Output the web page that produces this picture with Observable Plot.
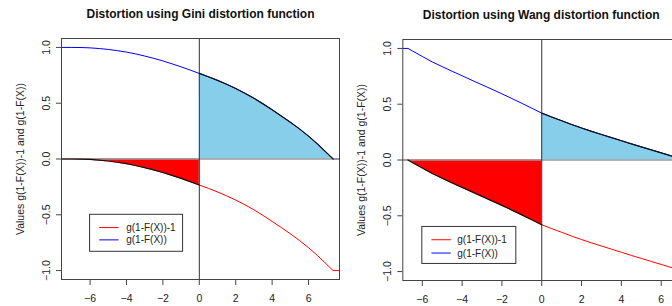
<!DOCTYPE html>
<html>
<head>
<meta charset="utf-8">
<script src="https://cdn.jsdelivr.net/npm/d3@7"></script>
<script src="https://cdn.jsdelivr.net/npm/@observablehq/plot@0.6"></script>
<style>
  html, body { margin: 0; padding: 0; background: #fff; }
  #wrap { position: relative; width: 672px; height: 306px; overflow: hidden; background: #fff; }
  .panel { position: absolute; top: 0; width: 360px; }
</style>
</head>
<body>
<div id="wrap">
  <div id="p2" class="panel" style="left:336px"></div>
  <div id="p1" class="panel" style="left:0px"></div>
</div>
<script>
// ---------- data ----------
const giniX = [-7.6, -7.0, -6.5, -6.0, -5.5, -5.0, -4.5, -4.0, -3.5, -3.0, -2.5, -2.0, -1.5, -1.0, -0.5, 0,
               0.5, 1.0, 1.5, 2.0, 2.5, 3.0, 3.5, 4.0, 4.5, 5.0, 5.5, 6.0, 6.5, 7.0, 7.35, 7.7];
const giniUpper = [1.0, 1.0, 0.999, 0.996, 0.99, 0.982, 0.971, 0.958, 0.942, 0.923, 0.902, 0.879, 0.853, 0.826, 0.797, 0.767,
                   0.737, 0.705, 0.67, 0.632, 0.59, 0.545, 0.494, 0.441, 0.386, 0.33, 0.27, 0.205, 0.133, 0.055, 0.0, 0.0];
const giniLower = [0.0, 0.0, -0.001, -0.004, -0.01, -0.018, -0.029, -0.042, -0.058, -0.077, -0.098, -0.121, -0.147, -0.174, -0.203, -0.233,
                   -0.263, -0.295, -0.33, -0.368, -0.41, -0.455, -0.506, -0.559, -0.614, -0.67, -0.73, -0.795, -0.867, -0.945, -1.0, -1.0];

const wangX = [-7.0, -6.72, -6.5, -6.0, -5.5, -5.0, -4.5, -4.0, -3.5, -3.0, -2.5, -2.0, -1.5, -1.0, -0.5, 0,
               0.5, 1.0, 1.5, 2.0, 2.5, 3.0, 3.5, 4.0, 4.5, 5.0, 5.5, 6.0, 6.5, 7.0];
const wangUpper = [1.0, 1.0, 0.978, 0.928, 0.879, 0.837, 0.795, 0.755, 0.714, 0.674, 0.634, 0.593, 0.551, 0.508, 0.464, 0.42,
                   0.385, 0.352, 0.318, 0.287, 0.257, 0.229, 0.201, 0.173, 0.145, 0.118, 0.091, 0.064, 0.037, 0.018];
const wangLower = [0.0, 0.0, -0.022, -0.072, -0.121, -0.163, -0.205, -0.245, -0.286, -0.326, -0.366, -0.407, -0.449, -0.492, -0.536, -0.58,
                   -0.615, -0.648, -0.682, -0.713, -0.743, -0.771, -0.799, -0.827, -0.855, -0.882, -0.909, -0.936, -0.963, -0.982];

const xTicks = [-6, -4, -2, 0, 2, 4, 6];
const yTicks = [-1, -0.5, 0, 0.5, 1];
const legendLabels = ["g(1-F(X))-1", "g(1-F(X))"];
const legendColors = ["red", "blue"];
const titles = ["Distortion using Gini distortion function", "Distortion using Wang distortion function"];
const yLabel = "Values g(1-F(X))-1 and g(1-F(X))";

// ---------- helpers ----------
const FONT = "'Liberation Sans', Arial, Helvetica, sans-serif";

function rows(xs, ys) { return xs.map((x, i) => ({x, v: ys[i]})); }

function legendMark(anchor, layout) {
  return (index, scales) => {
    const x0 = scales.x(anchor[0]), y0 = scales.y(anchor[1]);
    const g = d3.create("svg:g").attr("font-family", FONT).attr("font-size", 10).attr("text-anchor", "start");
    g.append("rect").attr("x", x0).attr("y", y0).attr("width", layout.w).attr("height", layout.h)
      .attr("fill", "white").attr("stroke", "#333").attr("stroke-width", 1);
    legendLabels.forEach((lab, i) => {
      const yy = y0 + layout.row0 + i * layout.rowStep;
      g.append("line").attr("x1", x0 + layout.l1).attr("x2", x0 + layout.l2)
        .attr("y1", yy).attr("y2", yy).attr("stroke", legendColors[i]).attr("stroke-width", 1);
      g.append("text").attr("x", x0 + layout.tx).attr("y", yy).attr("dy", "0.35em")
        .attr("text-anchor", "start").attr("fill", "#222").text(lab);
    });
    return g.node();
  };
}

function panel(cfg) {
  const upper = rows(cfg.xs, cfg.upper);
  const lower = rows(cfg.xs, cfg.lower);
  const upperFill = upper.filter(d => d.x >= 0 && d.x <= cfg.fillEnd);
  const lowerFill = lower.filter(d => d.x <= 0 && d.x >= cfg.fillStart);
  return Plot.plot({
    width: cfg.width,
    height: 306,
    marginLeft: cfg.marginLeft,
    marginRight: cfg.marginRight,
    marginTop: cfg.marginTop,
    marginBottom: cfg.marginBottom,
    style: {background: "transparent", fontFamily: FONT, fontSize: "10.5px", overflow: "visible",
            color: "#222", maxWidth: "none"},
    x: {domain: cfg.xDomain},
    y: {domain: [-1.08, 1.08]},
    marks: [
      Plot.areaY(upperFill, {x: "x", y1: 0, y2: "v", fill: "#87CEEB", clip: true}),
      Plot.areaY(lowerFill, {x: "x", y1: 0, y2: "v", fill: "#FF0000", clip: true}),
      Plot.line(upper, {x: "x", y: "v", stroke: "#0000FF", strokeWidth: 1, clip: true}),
      Plot.line(lower, {x: "x", y: "v", stroke: "#FF0000", strokeWidth: 1, clip: true}),
      Plot.ruleY([0], {stroke: "#9a9a9a", strokeWidth: 1.5}),
      Plot.ruleX([0], {stroke: "#333", strokeWidth: 1}),
      Plot.line(upperFill, {x: "x", y: "v", stroke: "#111", strokeWidth: 1.2, clip: true}),
      Plot.line(lowerFill, {x: "x", y: "v", stroke: "#111", strokeWidth: 1.2, clip: true}),
      Plot.frame({stroke: "#444", strokeWidth: 1}),
      Plot.axisX({ticks: xTicks, tickSize: 6, tickPadding: 9, label: null, stroke: "#444", fill: "#222", fontSize: 10.5}),
      Plot.axisY({ticks: yTicks, tickFormat: d3.format(".1f"), tickRotate: -90, tickSize: 5, tickPadding: 6.5,
                  label: null, stroke: "#444", fill: "#222", fontSize: 10.5}),
      Plot.text([yLabel], {text: d => d, frameAnchor: "left", dx: -41, rotate: -90,
                           textAnchor: "middle", lineAnchor: "middle", fontSize: 10.5, fill: "#222"}),
      Plot.text([cfg.title], {text: d => d, frameAnchor: "top", dy: -24, lineAnchor: "middle",
                              fontWeight: "bold", fontSize: 12, fill: "#111"}),
      legendMark(cfg.legendAnchor, cfg.legendLayout)
    ]
  });
}

document.getElementById("p1").appendChild(panel({
  xs: giniX, upper: giniUpper, lower: giniLower, fillStart: -7.6, fillEnd: 7.35,
  title: titles[0],
  width: 340, marginLeft: 61, marginRight: 1, marginTop: 38, marginBottom: 27,
  xDomain: [-7.57, 7.7],
  legendAnchor: [-6, -0.5],
  legendLayout: {w: 93, h: 37, l1: 9.6, l2: 29, row0: 13.3, rowStep: 12.3, tx: 36.6}
}));

document.getElementById("p2").appendChild(panel({
  xs: wangX, upper: wangUpper, lower: wangLower, fillStart: -6.72, fillEnd: 7.0,
  title: titles[1],
  width: 343, marginLeft: 66.3, marginRight: 0, marginTop: 39, marginBottom: 26,
  xDomain: [-6.98, 6.92],
  legendAnchor: [-6, -0.6],
  legendLayout: {w: 94, h: 37, l1: 9.6, l2: 29, row0: 13.3, rowStep: 13.3, tx: 35.5}
}));
</script>
</body>
</html>
